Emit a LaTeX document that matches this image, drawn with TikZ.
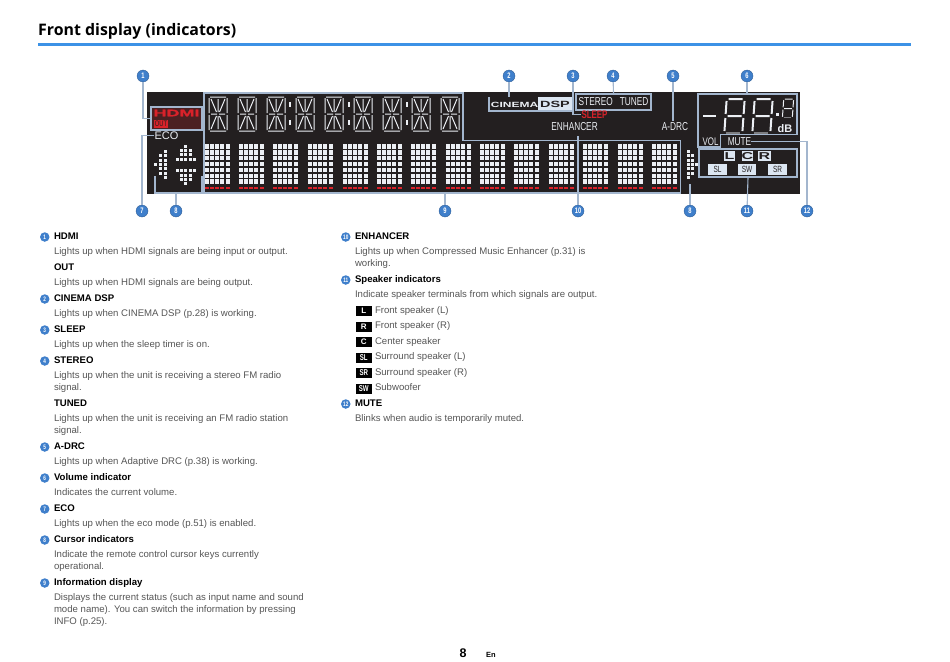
\documentclass[tikz,border=0pt]{standalone}
\usepackage{fontspec}
\setmainfont{Liberation Sans}
\newfontfamily\titlefont{Open Sans}
\newfontfamily\lcdfont[FakeStretch=0.72]{Liberation Sans}
\newfontfamily\widefont[FakeStretch=1.6]{Liberation Sans}
\newfontfamily\hdmifont[FakeStretch=1.9,FakeBold=1.5]{Liberation Sans}
\usetikzlibrary{positioning,calc}
\definecolor{panelblack}{HTML}{231F20}
\definecolor{framegrey}{HTML}{A3B6CE}
\definecolor{callblue}{HTML}{3F7FCB}
\definecolor{ruleblue}{HTML}{3C92E6}
\definecolor{lcdwhite}{HTML}{ECEFF4}
\definecolor{lcdred}{HTML}{D9222A}
\definecolor{bodygrey}{HTML}{555555}
\definecolor{chipfill}{HTML}{DCE6F2}
\newcommand{\lines}[1]{\begin{tabular}[t]{@{}l@{}}#1\end{tabular}}

\begin{document}
\begin{tikzpicture}[
  x=1pt,y=-1pt,
  callout/.style={circle,fill=callblue,draw=callblue!70!black,line width=0.3pt,text=white,inner sep=0pt,minimum size=12pt,font=\fontsize{8}{8}\lcdfont\bfseries},
  listnum/.style={circle,fill=callblue,text=white,inner sep=0pt,minimum size=9.5pt,font=\fontsize{6.5}{6}\lcdfont\bfseries},
  lead/.style={draw=framegrey,line width=1.1pt},
  frame/.style={draw=framegrey,line width=1.1pt},
  head/.style={inner sep=0pt,outer sep=0pt,font=\fontsize{9.6}{12}\selectfont\bfseries,text=black,anchor=north west,execute at begin node=\strut},
  body/.style={inner sep=0pt,outer sep=0pt,font=\fontsize{9.6}{12}\selectfont,text=bodygrey,anchor=north west,execute at begin node=\strut},
  follow/.style={at={([yshift=-3.5pt]#1.south west)}},
  indent/.style={at={([xshift=20pt,yshift=-3.5pt]#1.south west)}},
  spkicon/.style={fill=black,text=white,inner sep=0pt,minimum width=16pt,minimum height=10pt,font=\fontsize{8}{8}\bfseries},
  lcd/.style={inner sep=0pt,text=lcdwhite},
  chip/.style={fill=chipfill,text=panelblack,inner sep=0pt,font=\fontsize{9}{9}\lcdfont},
  alphadigit/.pic={
    \draw[lcdwhite,line width=1pt]
      (-8,-17) -- (8,-17) (-8,17) -- (8,17) (-9,-16) -- (-9,-1) (-9,1) -- (-9,16)
      (9,-16) -- (9,-1) (9,1) -- (9,16) (-7,0) -- (-1,0) (1,0) -- (7,0)
      (0,-15) -- (0,-2) (0,2) -- (0,15)
      (-7,-15) -- (-1.5,-2) (7,-15) -- (1.5,-2) (-7,15) -- (-1.5,2) (7,15) -- (1.5,2);
  },
  sevenseg/.pic={
    \draw[lcdwhite,xslant=0.07]
      (-7,-17) -- (7,-17) (-7,0) -- (7,0)
      (-9,-15) -- (-9,-2) (-9,2) -- (-9,15) (9,-15) -- (9,-2) (9,2) -- (9,15);
    \draw[lcdwhite!45!panelblack,xslant=0.07] (-7,17) -- (7,17);
  },
  dotmatrix/.pic={
    \foreach \col in {0,...,4} {
      \foreach \row in {0,...,6}
        \fill[lcdwhite] (\col*5.15,\row*5.9) rectangle ++(4,4.6);
      \fill[lcdred] (\col*5.15,43) rectangle ++(4,2.2);
    }
  }]
  \useasboundingbox (0,0) rectangle (950,661);
  % page title
  \node[inner sep=0pt,anchor=base west,font=\fontsize{15.9}{20}\titlefont\bfseries] (title) at (38,36) {Front display (indicators)};
  \coordinate (ruleL) at (38,45);
  \coordinate (ruleR) at (911,45);
  \draw[ruleblue,line width=3pt] (ruleL) -- (ruleR);

  % display panel
  \fill[panelblack] (147,92) rectangle (800,194);
  \foreach \x in {218,247,276,305,334,363,392,421,450}
    \pic at (\x,114) {alphadigit};
  \foreach \x in {290,349,407} {
    \fill[lcdwhite] (\x-0.8,102) rectangle ++(1.6,5);
    \fill[lcdwhite] (\x-0.8,120) rectangle ++(1.6,5);
  }
  \foreach \x in {205,239,273,308,343,377,411,446,480,514,549,583,618,652}
    \pic at (\x,144) {dotmatrix};

  % cursor keys
  \foreach \x/\y in {165/151.3,165/155.7,165/160.1,165/164.5,165/168.9,165/173.3,165/177.7,
    160.4/155.7,160.4/160.1,160.4/164.5,160.4/168.9,160.4/173.3,155.8/164.5,
    185.7/146,181.4/150.4,185.7/150.4,190/150.4,181.4/154.7,185.7/154.7,190/154.7,
    177/159,181.4/159,185.7/159,190/159,194.3/159,
    177/170.7,181.4/170.7,185.7/170.7,190/170.7,194.3/170.7,
    181.4/175,185.7/175,190/175,181.4/179.3,185.7/179.3,190/179.3,185.7/183.7,
    688/151.3,688/155.7,688/160.1,688/164.5,688/168.9,688/173.3,688/177.7,
    692.2/155.7,692.2/160.1,692.2/164.5,692.2/168.9,692.2/173.3,696.4/164.5}
    \fill[lcdwhite] (\x-1.5,\y-1.5) rectangle ++(3,3);

  % hdmi and eco
  \node[fill=lcdred!22!panelblack,frame,minimum width=51pt,minimum height=23pt,inner sep=0pt] (hdmibox) at (176.5,118.5) {};
  \node[lcd,text=lcdred,font=\fontsize{9.5}{10}\hdmifont\bfseries] (hdmi) at (176.5,113) {HDMI};
  \node[fill=lcdred,text=panelblack,inner sep=0pt,minimum width=14pt,minimum height=8pt,font=\fontsize{8}{8}\lcdfont] (out) at (161,123.5) {OUT};
  \node[lcd,font=\fontsize{11}{11}\selectfont] (eco) at (166.5,135.5) {ECO};

  % cinema dsp
  \node[fill=chipfill,minimum width=34pt,minimum height=14pt,inner sep=0pt] (dspchip) at (555,104) {};
  \node[lcd,font=\fontsize{7.5}{8}\widefont\bfseries] (cinema) at (514.5,104.5) {CINEMA};
  \node[lcd,text=panelblack,font=\fontsize{9}{8}\widefont\bfseries] (dsp) at (555,104.5) {DSP};
  \coordinate (cinemaTL) at (489,97);
  \coordinate (cinemaBL) at (489,111);
  \coordinate (cinemaBR) at (572,111);
  \coordinate (cinemaT) at (509,97);
  \draw[frame] (cinemaTL) -- (cinemaBL) -- (cinemaBR);

  % stereo tuned, sleep, enhancer, a-drc
  \node[frame,lcd,minimum width=75pt,minimum height=16pt,font=\fontsize{11.5}{12}\lcdfont] (stereo) at (613.5,102) {STEREO\hspace{7pt}TUNED};
  \node[lcd,text=lcdred,font=\fontsize{11}{12}\lcdfont\bfseries] (sleep) at (594.5,114.5) {SLEEP};
  \node[lcd,font=\fontsize{11.5}{12}\lcdfont] (enhancer) at (574.5,127) {ENHANCER};
  \node[lcd,font=\fontsize{11.5}{12}\lcdfont] (adrc) at (675,127) {A-DRC};

  % volume
  \fill[lcdwhite] (703,114.5) rectangle (716,117);
  \pic[line width=2pt] at (734.5,116) {sevenseg};
  \pic[line width=2pt] at (762.5,116) {sevenseg};
  \fill[lcdwhite] (776,113) rectangle (778.5,115.5);
  \pic[line width=1pt,scale=0.55] at (788,108.5) {sevenseg};
  \node[lcd,font=\fontsize{11}{12}\selectfont\bfseries] (db) at (785,128.5) {dB};
  \node[lcd,font=\fontsize{11}{12}\lcdfont] (vol) at (710.5,142) {VOL};
  \node[lcd,font=\fontsize{11.5}{12}\lcdfont] (mute) at (739.5,141.5) {MUTE};
  \draw[frame] (698,147) -- (698,94) -- (797,94) -- (797,134.5) -- (720.5,134.5) -- (720.5,147) -- cycle;

  % speakers
  \node[frame,minimum width=98pt,minimum height=28pt,inner sep=0pt] (spkbox) at (748,163) {};
  \node[chip,minimum width=11pt,minimum height=10pt,font=\fontsize{10}{10}\widefont\bfseries] (chipL) at (729.5,156) {L};
  \node[chip,minimum width=11pt,minimum height=10pt,font=\fontsize{10}{10}\widefont\bfseries] (chipC) at (747.5,156) {C};
  \node[chip,minimum width=13pt,minimum height=10pt,font=\fontsize{10}{10}\widefont\bfseries] (chipR) at (764.5,156) {R};
  \node[chip,minimum width=19pt,minimum height=11pt] (chipSL) at (717.5,169.5) {SL};
  \node[chip,minimum width=18pt,minimum height=11pt] (chipSW) at (747,169.5) {SW};
  \node[chip,minimum width=19pt,minimum height=11pt] (chipSR) at (777.5,169.5) {SR};

  % information display frame
  \draw[frame] (204,93) -- (463,93) -- (463,140.5) -- (680.5,140.5) -- (680.5,193) -- (204,193) -- cycle;
  % cursor bracket
  \coordinate (cursorA) at (155,176);
  \coordinate (cursorB) at (155,193);
  \coordinate (cursorC) at (202,193);
  \coordinate (cursorD) at (202,176);
  \coordinate (cursorR) at (690,184);
  \draw[frame] (cursorA) -- (cursorB) -- (cursorC) -- (cursorD);

  % callouts
  \foreach \name/\n/\x/\y in {a/1/143/76,b/2/509/76,c/3/573/76,d/4/613/76,e/5/673/76,f/6/747/76,
    g/7/142/211,h/8/176/211,i/9/445/211,j/10/578/211,k/8/690/211,l/11/747/211,m/12/807/211}
    \node[callout] (num\name) at (\x,\y) {\n};
  \coordinate (aim5) at (673,121);
  \coordinate (aim6) at (747,94);
  \coordinate (aim9) at (445,193);
  \coordinate (aim10) at (578,136);
  \coordinate (aim8) at (176,193);
  \draw[lead] (numa) |- (hdmibox.west);
  \draw[lead] (numb) -- (cinemaT);
  \draw[lead] (numc) |- (sleep.west);
  \draw[lead] (numd) -- (stereo.north);
  \draw[lead] (nume) -- (aim5);
  \draw[lead] (numf) -- (aim6);
  \draw[lead] (numg) |- (eco.west);
  \draw[lead] (numh) -- (aim8);
  \draw[lead] (numi) -- (aim9);
  \draw[lead] (numj) -- (aim10);
  \draw[lead] (numk) -- (cursorR);
  \draw[lead] (numl) -- (spkbox.south);
  \draw[lead] (numm) |- (mute.east);

  % left column
  \node[head] (h1) at (54,231) {HDMI};
  \node[body,follow=h1] (b1) {Lights up when HDMI signals are being input or output.};
  \node[head,follow=b1] (h1o) {OUT};
  \node[body,follow=h1o] (b1o) {Lights up when HDMI signals are being output.};
  \node[head,follow=b1o] (h2) {CINEMA DSP};
  \node[body,follow=h2] (b2) {Lights up when CINEMA DSP (p.28) is working.};
  \node[head,follow=b2] (h3) {SLEEP};
  \node[body,follow=h3] (b3) {Lights up when the sleep timer is on.};
  \node[head,follow=b3] (h4) {STEREO};
  \node[body,follow=h4] (b4) {\lines{Lights up when the unit is receiving a stereo FM radio\\signal.}};
  \node[head,follow=b4] (h4t) {TUNED};
  \node[body,follow=h4t] (b4t) {\lines{Lights up when the unit is receiving an FM radio station\\signal.}};
  \node[head,follow=b4t] (h5) {A-DRC};
  \node[body,follow=h5] (b5) {Lights up when Adaptive DRC (p.38) is working.};
  \node[head,follow=b5] (h6) {Volume indicator};
  \node[body,follow=h6] (b6) {Indicates the current volume.};
  \node[head,follow=b6] (h7) {ECO};
  \node[body,follow=h7] (b7) {Lights up when the eco mode (p.51) is enabled.};
  \node[head,follow=b7] (h8) {Cursor indicators};
  \node[body,follow=h8] (b8) {\lines{Indicate the remote control cursor keys currently\\operational.}};
  \node[head,follow=b8] (h9) {Information display};
  \node[body,follow=h9] (b9) {\lines{Displays the current status (such as input name and sound\\mode name). You can switch the information by pressing\\INFO (p.25).}};

  % right column
  \node[head] (h10) at (355,231) {ENHANCER};
  \node[body,follow=h10] (b10) {\lines{Lights up when Compressed Music Enhancer (p.31) is\\working.}};
  \node[head,follow=b10] (h11) {Speaker indicators};
  \node[body,follow=h11] (b11) {Indicate speaker terminals from which signals are output.};
  \node[body,indent=b11] (sL) {Front speaker (L)};
  \node[body,follow=sL] (sR) {Front speaker (R)};
  \node[body,follow=sR] (sC) {Center speaker};
  \node[body,follow=sC] (sSL) {Surround speaker (L)};
  \node[body,follow=sSL] (sSR) {Surround speaker (R)};
  \node[body,follow=sSR] (sSW) {Subwoofer};
  \node[head,at={([xshift=-20pt,yshift=-3.5pt]sSW.south west)}] (h12) {MUTE};
  \node[body,follow=h12] (b12) {Blinks when audio is temporarily muted.};

  \foreach \t in {L,R,C}
    \node[spkicon,left=3pt of s\t] (icon\t) {\t};
  \foreach \t in {SL,SR,SW}
    \node[spkicon,left=3pt of s\t,font=\fontsize{8.5}{8}\lcdfont\bfseries] (icon\t) {\t};

  \foreach \n/\h in {1/h1,2/h2,3/h3,4/h4,5/h5,6/h6,7/h7,8/h8,9/h9,10/h10,11/h11,12/h12}
    \node[listnum,left=4.3pt of \h] (item\n) {\n};

  % footer
  \node[inner sep=0pt,font=\fontsize{12.5}{13}\selectfont\bfseries] (page) at (463,653) {8};
  \node[inner sep=0pt,font=\fontsize{7.5}{8}\selectfont\bfseries] (lang) at (491,655) {En};
\end{tikzpicture}
\end{document}
